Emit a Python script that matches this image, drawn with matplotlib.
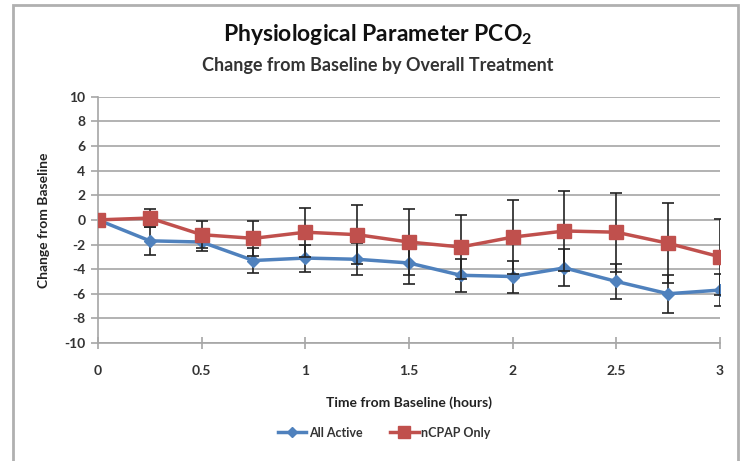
import matplotlib.pyplot as plt
from matplotlib.patches import Rectangle

plt.rcParams['font.family'] = ['Lato', 'DejaVu Sans']
plt.rcParams['mathtext.fontset'] = 'custom'
plt.rcParams['mathtext.rm'] = 'Lato:bold'
plt.rcParams['axes.unicode_minus'] = False

# Datos
horas = [0, 0.25, 0.5, 0.75, 1, 1.25, 1.5, 1.75, 2, 2.25, 2.5, 2.75, 3]
all_active = [0, -1.7, -1.8, -3.3, -3.1, -3.2, -3.5, -4.5, -4.6, -3.9, -5.0, -6.0, -5.7]
all_active_err = [0, 1.15, 0.75, 1.0, 1.1, 1.3, 1.7, 1.35, 1.3, 1.5, 1.4, 1.55, 1.3]
ncpap = [0, 0.15, -1.2, -1.5, -1.0, -1.2, -1.8, -2.2, -1.4, -0.9, -1.0, -1.9, -3.0]
ncpap_err = [0, 0.75, 1.1, 1.4, 2.0, 2.4, 2.65, 2.6, 3.0, 3.25, 3.2, 3.25, 3.1]
xticks = [0, 0.5, 1, 1.5, 2, 2.5, 3]
yticks = list(range(-10, 11, 2))

fig = plt.figure(figsize=(7.44, 4.61), dpi=100)
ax = fig.add_axes([0.1317, 0.256, 0.836, 0.534])

# Marco exterior
fig.patches.append(Rectangle((13 / 744, -0.1), 725 / 744, 1.1 - 5 / 461,
                             transform=fig.transFigure, fill=False,
                             edgecolor='#b0b0b0', linewidth=2))

azul = '#4F81BD'
rojo = '#C0504D'

eb1 = ax.errorbar(horas, all_active, yerr=all_active_err, color=azul, marker='D',
                  markersize=6, linewidth=2.5, ecolor='#222222', elinewidth=1.2,
                  capsize=4, capthick=1.2, zorder=3)
eb2 = ax.errorbar(horas, ncpap, yerr=ncpap_err, color=rojo, marker='s',
                  markersize=10, linewidth=2.5, ecolor='#222222', elinewidth=1.2,
                  capsize=4, capthick=1.2, zorder=4)

ax.set_xlim(0, 3)
ax.set_ylim(-10, 10)
ax.set_xticks(xticks)
ax.set_xticklabels([f'{t:g}' for t in xticks])
ax.set_yticks(yticks)
ax.grid(axis='y', color='#a6a6a6', linewidth=1.2)
ax.set_axisbelow(True)

for s in ['top', 'right']:
    ax.spines[s].set_visible(False)
for s in ['left', 'bottom']:
    ax.spines[s].set_color('#a6a6a6')
    ax.spines[s].set_linewidth(1.2)
ax.spines['bottom'].set_zorder(5)

ax.tick_params(axis='x', direction='inout', length=8, color='#a6a6a6', width=1.2,
               labelsize=10, pad=12)
ax.tick_params(axis='y', direction='out', length=5, color='#a6a6a6', width=1.2,
               labelsize=10, pad=4)
for lab in ax.get_xticklabels() + ax.get_yticklabels():
    lab.set_fontweight('bold')
    lab.set_color('#333333')

ax.set_xlabel('Time from Baseline (hours)', fontsize=10, fontweight='bold',
              color='#222222', labelpad=14)
ax.set_ylabel('Change from Baseline', fontsize=10, fontweight='bold',
              color='#222222', labelpad=10)

fig.text(0.508, 0.925, 'Physiological Parameter PCO$_2$', ha='center', va='center',
         fontsize=16.5, fontweight='bold', color='#111111')
fig.text(0.508, 0.858, 'Change from Baseline by Overall Treatment', ha='center',
         va='center', fontsize=13, fontweight='bold', color='#333333')

leg = ax.legend([eb1[0], eb2[0]], ['All Active', 'nCPAP Only'], loc='center',
                bbox_to_anchor=(0.46, -0.365), ncol=2, frameon=False,
                fontsize=9, handlelength=2.3, columnspacing=2.2, handletextpad=0.2,
                markerscale=0.8)
for t in leg.get_texts():
    t.set_fontweight('bold')
    t.set_color('#333333')

fig.savefig('out.png', dpi=100)
